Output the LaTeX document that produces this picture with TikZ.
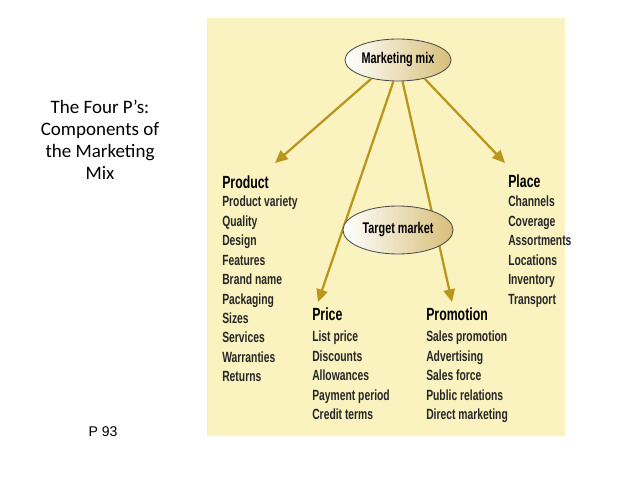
\documentclass[tikz,border=0pt]{standalone}
\usepackage{fontspec}
\setmainfont{Carlito}
\newfontfamily\cond[FakeStretch=0.7]{Liberation Sans}
\newfontfamily\arialf{Liberation Sans}
\usetikzlibrary{shapes.geometric,arrows.meta}
\definecolor{panel}{RGB}{250,243,192}
\definecolor{gold}{RGB}{185,150,25}
\definecolor{tan}{RGB}{215,190,120}
\tikzset{
 x=0.025cm,y=-0.025cm,
 oval/.style={ellipse,draw=gray!60!black,line width=0.6pt,left color=white,right color=tan,inner sep=0pt, font=\cond\bfseries\fontsize{11}{12}\selectfont},
 conn/.style={draw=gold,line width=1.6pt,-{Triangle[length=9pt,width=8pt]}},
 head/.style={anchor=north west,font=\cond\bfseries\fontsize{12.5}{14}\selectfont,inner sep=0pt},
 items/.style={anchor=north west,align=left,font=\cond\bfseries\fontsize{10.5}{13.8}\selectfont,inner sep=0pt,text=black!85},
}
\begin{document}
\begin{tikzpicture}
\useasboundingbox (0,0) rectangle (638,479);
\fill[panel] (207,18) rectangle (565,436);
\node[oval,minimum width=2.65cm,minimum height=1.05cm] (mm) at (398,60) {Marketing mix};
\coordinate (pr) at (275,163);
\coordinate (pc) at (318,302);
\coordinate (pm) at (452,302);
\coordinate (pl) at (505,163);
\draw[conn] (mm.215) -- (pr);
\draw[conn] (mm.258) -- (pc);
\draw[conn] (mm.282) -- (pm);
\draw[conn] (mm.325) -- (pl);
\node[oval,minimum width=2.75cm,minimum height=1.2cm] (tm) at (398,230) {Target market};
\node[head] (h1) at (222,175) {Product};
\node[items] (i1) at (222,196) {Product variety\\Quality\\Design\\Features\\Brand name\\Packaging\\Sizes\\Services\\Warranties\\Returns};
\node[head] (h2) at (312,307) {Price};
\node[items] (i2) at (312,331) {List price\\Discounts\\Allowances\\Payment period\\Credit terms};
\node[head] (h3) at (426,307) {Promotion};
\node[items] (i3) at (426,331) {Sales promotion\\Advertising\\Sales force\\Public relations\\Direct marketing};
\node[head] (h4) at (508,174) {Place};
\node[items] (i4) at (508,196) {Channels\\Coverage\\Assortments\\Locations\\Inventory\\Transport};
\node[align=center,font=\fontsize{13.5}{15.5}\selectfont] (t) at (100,140) {The Four P’s:\\Components of\\the Marketing\\Mix};
\node[font=\arialf\fontsize{10}{12}\selectfont] (p) at (103,432) {P 93};
\end{tikzpicture}
\end{document}
